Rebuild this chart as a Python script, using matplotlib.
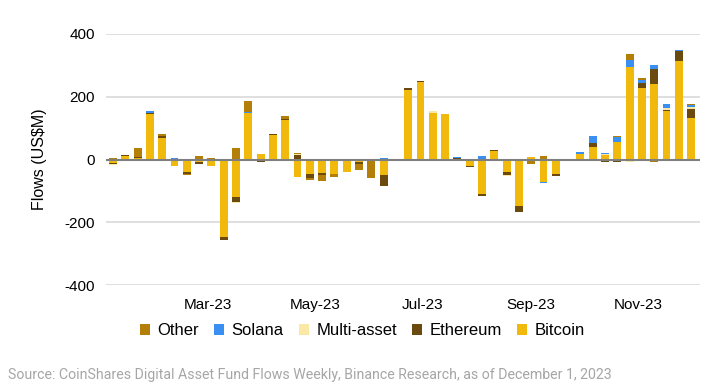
import matplotlib
matplotlib.use("Agg")
import matplotlib.pyplot as plt
import matplotlib.dates as mdates
from matplotlib.patches import Patch
import numpy as np
import datetime as dt

plt.rcParams["axes.unicode_minus"] = False

# Weekly fund flows (US$M), weeks ending Fridays from 6 Jan 2023 to 1 Dec 2023
bitcoin = [-12, 10, 5, 145, 70, -21, -40, -7, -20, -246, -120, 148,
           18, 77, 125, -55, -47, -44, -47, -39, -8, -2, -50, 0,
           220, 247, 149, 144, -6, -20, -111, 28, -39, -147, 9, -72,
           -47, 0, 19, 40, 15, 57, 294, 227, 241, 155, 313, 132]
ethereum = [-3, 3, 4, 4, 4, 3, -6, -7, 0, -11, -15, -4,
            -9, 3, 5, 14, -13, -5, 0, 0, -6, 0, -33, 0,
            7, 3, 0, 0, 6, -3, -5, 3, -11, -20, 0, 0,
            -7, 0, 0, 12, -8, -8, -5, 18, 47, 4, 32, 30]
multi_asset = [-2, 0, 0, -3, 0, 0, 2, 0, 0, 0, -3, 0,
               0, 0, 0, 4, 0, 0, 0, 0, 0, 0, 0, 0,
               -3, -2, 7, 0, 0, 0, 0, 0, -2, 0, 0, 0,
               0, 0, 0, 0, 3, 0, -3, 0, 0, 6, 0, 4]
solana = [0, 2, 0, 4, 2, 2, 0, 0, 0, 0, 0, 3,
          0, 0, 0, 0, 0, 3, 0, 0, 0, 0, 4, 0,
          0, 0, 0, 0, 3, 2, 10, 0, 0, 0, 0, -3,
          0, 0, 4, 23, 3, 15, 23, 8, 14, 13, 4, 7]
other = [4, -5, 28, 0, 4, 0, -2, 12, 5, 0, 36, 34,
         0, 0, 10, 3, -6, -21, -8, -2, -20, -58, 0, -5,
         -3, 0, 0, 0, 0, 0, 0, 0, 0, 0, -13, 12,
         0, -6, 0, 0, 0, 4, 18, 8, -8, 0, 0, 3]

series_names = ["Bitcoin", "Ethereum", "Multi-asset", "Solana", "Other"]
series_vals = [bitcoin, ethereum, multi_asset, solana, other]
colors = {"Bitcoin": "#F0B90B", "Ethereum": "#6B4A0F", "Multi-asset": "#FBE8A4",
          "Solana": "#3A8FF2", "Other": "#B47F08"}
legend_order = ["Other", "Solana", "Multi-asset", "Ethereum", "Bitcoin"]
month_ticks = ["2023-03-01", "2023-05-01", "2023-07-01", "2023-09-01", "2023-11-01"]

start = dt.date(2023, 1, 6)
dates = [start + dt.timedelta(days=7 * i) for i in range(len(bitcoin))]
x = mdates.date2num(dates)

fig = plt.figure(figsize=(7.26, 3.90), dpi=100)
ax = fig.add_axes([0.146, 0.269, 0.818, 0.644])

pos_base = np.zeros(len(x))
neg_base = np.zeros(len(x))
for name, vals in zip(series_names, series_vals):
    v = np.array(vals, dtype=float)
    p = np.where(v > 0, v, 0)
    n = np.where(v < 0, v, 0)
    ax.bar(x, p, bottom=pos_base, width=4.5, color=colors[name], linewidth=0, zorder=3)
    ax.bar(x, n, bottom=neg_base, width=4.5, color=colors[name], linewidth=0, zorder=3)
    pos_base += p
    neg_base += n

ax.set_ylim(-400, 400)
ax.set_yticks([-400, -200, 0, 200, 400])
ax.set_xlim(mdates.date2num(dt.date(2023, 1, 2)), mdates.date2num(dt.date(2023, 12, 6)))
ax.set_xticks(mdates.date2num([dt.date.fromisoformat(d) for d in month_ticks]))
ax.xaxis.set_major_formatter(mdates.DateFormatter("%b-%y"))

for yv in [-400, -200, 200, 400]:
    ax.axhline(yv, color="#D9D9D9", linewidth=1.2, zorder=1)
ax.axhline(0, color="#7F7F7F", linewidth=1.5, zorder=4)

for s in ax.spines.values():
    s.set_visible(False)
ax.tick_params(axis="both", length=0, labelsize=11, colors="#000000")
ax.tick_params(axis="y", pad=8)
ax.tick_params(axis="x", pad=9)
for lbl in ax.get_xticklabels() + ax.get_yticklabels():
    lbl.set_fontfamily("Liberation Sans")

ax.set_ylabel("Flows (US$M)", fontsize=11.5, fontfamily="Liberation Sans")
ax.yaxis.set_label_coords(-0.1, 0.5)

handles = [Patch(facecolor=colors[n], edgecolor="none", label=n) for n in legend_order]
fig.legend(handles=handles, loc="center", bbox_to_anchor=(0.499, 0.152), ncol=5,
           frameon=False, prop={"family": "Liberation Sans", "size": 12},
           handlelength=0.6, handleheight=0.7, handletextpad=0.45, columnspacing=0.9)

fig.text(0.011, 0.038, "Source: CoinShares Digital Asset Fund Flows Weekly, Binance Research, as of December 1, 2023",
         fontsize=10.2, color="#A6A6A6", fontfamily="Roboto", ha="left", va="center")

fig.savefig("out.png", dpi=100)
